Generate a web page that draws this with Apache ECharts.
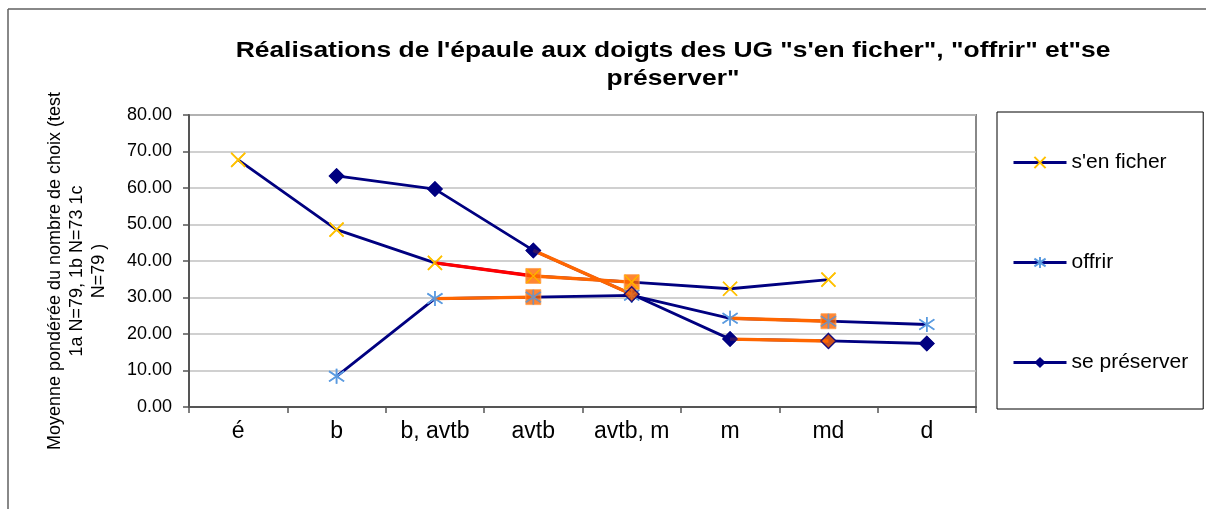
<!DOCTYPE html>
<html>
<head>
<meta charset="utf-8">
<script src="https://cdn.jsdelivr.net/npm/echarts@6/dist/echarts.min.js"></script>
<style>
  html, body { margin: 0; padding: 0; background: #ffffff; }
  #chart { width: 1206px; height: 509px; }
</style>
</head>
<body>
<div id="chart"></div>
<script>
// Categories along the shoulder-to-fingers axis
const categories = ['é', 'b', 'b, avtb', 'avtb', 'avtb, m', 'm', 'md', 'd'];

// Weighted mean of choices per category (null = no value)
const sEnFicher   = [67.7, 48.6, 39.5, 35.9, 34.2, 32.4, 34.9, null];
const offrir      = [null, 8.4, 29.7, 30.1, 30.6, 24.3, 23.5, 22.6];
const sePreserver = [null, 63.3, 59.7, 42.9, 30.9, 18.6, 18.1, 17.4];

const seriesNames = ["s'en ficher", 'offrir', 'se préserver'];

const titleText = 'Réalisations de l\'épaule aux doigts des UG "s\'en ficher", "offrir" et"se\npréserver"';
const yAxisTitle = 'Moyenne pondérée du nombre de choix (test\n1a N=79, 1b N=73 1c\nN=79 )';

const FONT = "'Liberation Sans', Arial, sans-serif";
const NAVY = '#000080';
const ORANGE = '#FF6600';
const RED = '#FF0000';
const X_PATH = 'path://M0,0L10,10M10,0L0,10';
const STAR_PATH = 'path://M5,0L5,10M0.8,1.6L9.2,8.4M0.8,8.4L9.2,1.6';

// Per-series marker look and highlighted points / segments
const looks = [
  {
    values: sEnFicher,
    symbol: X_PATH, size: 14,
    item: { color: 'rgba(0,0,0,0)', borderColor: '#FFC000', borderWidth: 1.6 },
    segments: [[3, RED], [4, ORANGE]],
    boxes: [3, 4], boxSymbol: 'rect', boxSize: 15,
    boxItem: { color: ORANGE, borderColor: '#FFA050', borderWidth: 1 },
    boxOnTop: false
  },
  {
    values: offrir,
    symbol: STAR_PATH, size: 15,
    item: { color: 'rgba(0,0,0,0)', borderColor: '#5B9BE0', borderWidth: 1.6 },
    segments: [[3, ORANGE], [6, ORANGE]],
    boxes: [3, 6], boxSymbol: 'rect', boxSize: 15,
    boxItem: { color: ORANGE, borderColor: '#FFA050', borderWidth: 1 },
    boxOnTop: false
  },
  {
    values: sePreserver,
    symbol: 'diamond', size: 16,
    item: { color: NAVY },
    segments: [[4, ORANGE], [6, ORANGE]],
    boxes: [4, 6], boxSymbol: 'diamond', boxSize: 15,
    boxItem: { color: ORANGE, borderColor: NAVY, borderWidth: 1.5 },
    boxOnTop: true
  }
];

const series = [];

// Base lines (also used by the legend)
looks.forEach((lk, s) => {
  series.push({
    name: seriesNames[s],
    type: 'line',
    data: lk.values,
    z: 2,
    symbol: lk.symbol,
    symbolSize: lk.size,
    showSymbol: true,
    connectNulls: false,
    lineStyle: { color: NAVY, width: 2.8 },
    itemStyle: lk.item,
    emphasis: { disabled: true }
  });
});

// Recoloured segments ending at the given point
looks.forEach((lk) => {
  lk.segments.forEach(([end, color]) => {
    series.push({
      type: 'line',
      data: lk.values.map((v, i) => (i === end || i === end - 1) ? v : null),
      z: 3,
      symbol: 'none',
      lineStyle: { color: color, width: 3.4 },
      emphasis: { disabled: true },
      silent: true
    });
  });
});

// Highlighted point backgrounds (orange squares / diamonds)
looks.forEach((lk) => {
  series.push({
    type: 'scatter',
    data: lk.boxes.map(i => [i, lk.values[i]]),
    z: lk.boxOnTop ? 6 : 4,
    symbol: lk.boxSymbol,
    symbolSize: lk.boxSize,
    itemStyle: lk.boxItem,
    emphasis: { disabled: true },
    silent: true
  });
});

// Markers redrawn above the recoloured segments
looks.forEach((lk) => {
  const pts = [];
  lk.values.forEach((v, i) => {
    if (v === null) return;
    if (lk.boxOnTop && lk.boxes.includes(i)) return;
    pts.push([i, v]);
  });
  series.push({
    type: 'scatter',
    data: pts,
    z: lk.boxOnTop ? 6 : 5,
    symbol: lk.symbol,
    symbolSize: lk.size,
    itemStyle: lk.item,
    emphasis: { disabled: true },
    silent: true
  });
});

const chart = echarts.init(document.getElementById('chart'), null, { renderer: 'canvas' });

chart.setOption({
  animation: false,
  backgroundColor: '#ffffff',
  textStyle: { fontFamily: FONT },
  legend: {
    data: seriesNames,
    orient: 'vertical',
    left: 997,
    top: 112,
    padding: [40, 15, 36, 15],
    itemGap: 79,
    itemWidth: 53,
    itemHeight: 14,
    borderColor: '#000',
    borderWidth: 1,
    lineStyle: { width: 3 },
    textStyle: { fontFamily: FONT, fontSize: 21, color: '#000' },
    selectedMode: false
  },
  grid: {
    left: 189,
    right: 230,
    top: 115,
    bottom: 102,
    show: true,
    borderColor: '#888888',
    borderWidth: 2,
    containLabel: false
  },
  xAxis: {
    type: 'category',
    data: categories,
    boundaryGap: true,
    axisLine: { lineStyle: { color: '#555555', width: 2 } },
    axisTick: { show: true, length: 6, interval: 0, lineStyle: { color: '#555555', width: 1.5 } },
    axisLabel: { interval: 0, margin: 13, fontSize: 23, color: '#000', fontFamily: FONT },
    splitLine: { show: false }
  },
  yAxis: {
    type: 'value',
    min: 0,
    max: 80,
    interval: 10,
    axisLine: { show: true, lineStyle: { color: '#555555', width: 2 } },
    axisTick: { show: true, length: 6, lineStyle: { color: '#555555', width: 1.5 } },
    axisLabel: { margin: 17, fontSize: 18, color: '#000', fontFamily: FONT,
                 formatter: v => v.toFixed(2) },
    splitLine: { show: true, lineStyle: { color: '#C0C0C0', width: 1.5 } }
  },
  graphic: [
    { type: 'line', shape: { x1: 8, y1: 9, x2: 1206, y2: 9 }, style: { stroke: '#606060', lineWidth: 1.5 }, silent: true },
    { type: 'line', shape: { x1: 8, y1: 9, x2: 8, y2: 509 }, style: { stroke: '#606060', lineWidth: 1.5 }, silent: true },
    {
      // Chart title, set in a wide bold face
      type: 'text',
      x: 673, y: 37,
      scaleX: 1.2,
      style: {
        text: titleText,
        font: 'bold 22px ' + FONT,
        fill: '#000',
        align: 'center',
        verticalAlign: 'top',
        lineHeight: 28
      },
      silent: true
    },
    {
      type: 'text',
      x: 77, y: 271,
      rotation: Math.PI / 2,
      style: {
        text: yAxisTitle,
        font: '18px ' + FONT,
        fill: '#000',
        align: 'center',
        verticalAlign: 'middle',
        lineHeight: 22
      },
      silent: true
    }
  ],
  series: series
});
</script>
</body>
</html>
